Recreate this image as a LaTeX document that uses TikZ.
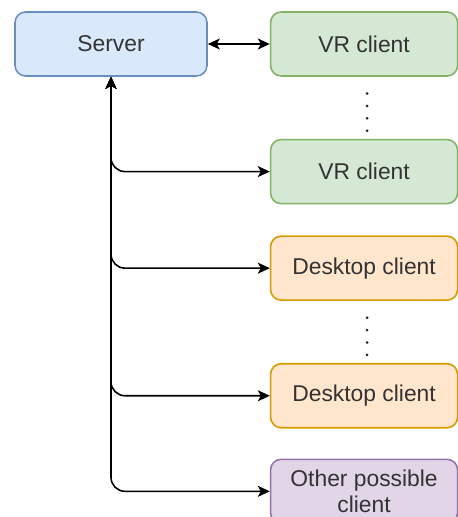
\documentclass[tikz,border=0pt]{standalone}
\usepackage{fontspec}
\setmainfont{Liberation Sans}
\usepackage{xcolor}
\usepackage{tikz}
\usetikzlibrary{arrows.meta,positioning,calc}
\definecolor{srvfill}{HTML}{DAE8FC}
\definecolor{srvline}{HTML}{6C8EBF}
\definecolor{vrfill}{HTML}{D5E8D4}
\definecolor{vrline}{HTML}{82B366}
\definecolor{dtfill}{HTML}{FFE6CC}
\definecolor{dtline}{HTML}{D79B00}
\definecolor{othfill}{HTML}{E1D5E7}
\definecolor{othline}{HTML}{9673A6}
\definecolor{txt}{HTML}{333333}

\begin{document}
\begin{tikzpicture}[
  >={Stealth[length=0.24cm,width=0.22cm,inset=0.06cm]},
  box/.style={draw,rounded corners=6pt,line width=0.9pt,
              minimum width=3.74cm,minimum height=1.28cm,align=center,
              text=txt,font=\fontsize{13}{15}\selectfont,inner sep=1pt},
  srvbox/.style={box,fill=srvfill,draw=srvline,minimum width=3.84cm},
  vrbox/.style={box,fill=vrfill,draw=vrline},
  dtbox/.style={box,fill=dtfill,draw=dtline},
  othbox/.style={box,fill=othfill,draw=othline},
  arr/.style={<->,line width=0.9pt},
  dot/.style={circle,fill=black!85,inner sep=0pt,minimum size=0.06cm}
]
\useasboundingbox (0,0) rectangle (9.16,-10.34);

\node[srvbox] (srv) at (2.22,-0.88) {Server};
\node[vrbox,right=1.24cm of srv] (vr1) {VR client};
\node[vrbox,below=1.24cm of vr1] (vr2) {VR client};
\node[dtbox,below=0.62cm of vr2] (dt1) {Desktop client};
\node[dtbox,below=1.24cm of dt1] (dt2) {Desktop client};
\node[othbox,below=0.6cm of dt2] (oth) {Other possible\\client};

% dotted gaps between clients
\foreach \f in {0.27,0.47,0.67,0.87} {
  \node[dot] at ($($(vr1.south)!\f!(vr2.north)$)+(0.06,0)$) {};
  \node[dot] at ($($(dt1.south)!\f!(dt2.north)$)+(0.06,0)$) {};
}

\draw[arr] (srv) -- (vr1);
\foreach \c in {vr2,dt1,dt2,oth}
  \draw[arr,rounded corners=0.28cm] (srv.south) |- (\c);
\end{tikzpicture}
\end{document}
